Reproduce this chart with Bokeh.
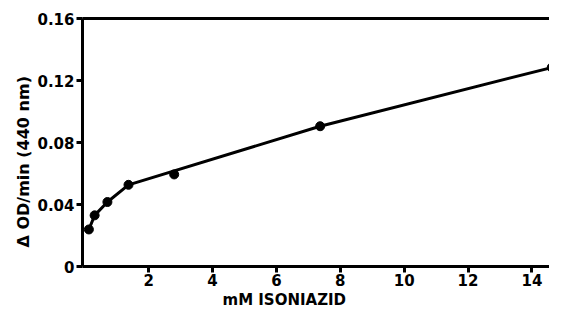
from bokeh.plotting import figure
from bokeh.models import FixedTicker, LinearAxis, Range1d, Title
from bokeh.embed import file_html
from bokeh.resources import INLINE

# measured points (mM isoniazid vs delta OD/min)
conc_mM = [0.13, 0.31, 0.71, 1.37, 2.80, 7.37, 14.62]
rate = [0.0239, 0.0330, 0.0416, 0.0527, 0.0594, 0.0905, 0.1284]

# hand-drawn curve through the points (skips the 2.8 mM point)
curve_conc = [0.13, 0.31, 0.71, 1.37, 7.37, 14.62]
curve_rate = [0.0239, 0.0330, 0.0416, 0.0527, 0.0905, 0.1284]

x_ticks = [2, 4, 6, 8, 10, 12, 14]
y_ticks = [0, 0.04, 0.08, 0.12, 0.16]
y_tick_labels = ["0", "0.04", "0.08", "0.12", "0.16"]
x_label = "mM ISONIAZID"
y_label = "\u0394 OD/min (440 nm)"

FONT = "DejaVu Sans"

p = figure(width=549, height=308, output_backend="svg", toolbar_location=None,
           x_range=Range1d(-0.07, 14.55), y_range=Range1d(0, 0.16),
           min_border_left=82, min_border_right=0, min_border_top=18,
           min_border_bottom=0)
p.grid.visible = False
p.outline_line_color = None
p.background_fill_color = "white"
p.border_fill_color = "white"

p.xaxis.ticker = FixedTicker(ticks=x_ticks)
p.yaxis.ticker = FixedTicker(ticks=y_ticks)
p.yaxis.major_label_overrides = dict(zip(y_ticks, y_tick_labels))

for ax in (p.xaxis[0], p.yaxis[0]):
    ax.axis_line_width = 3
    ax.axis_line_color = "black"
    ax.major_tick_line_width = 3
    ax.major_tick_line_color = "black"
    ax.major_tick_in = 0
    ax.major_tick_out = 6
    ax.minor_tick_line_color = None
    ax.major_label_text_font = FONT
    ax.major_label_text_font_style = "bold"
    ax.major_label_text_font_size = "15px"
    ax.major_label_text_color = "black"
p.xaxis.major_label_standoff = 1
p.yaxis.major_label_standoff = 2

top = LinearAxis(ticker=FixedTicker(ticks=[]), axis_line_width=3,
                 axis_line_color="black", major_tick_line_color=None,
                 minor_tick_line_color=None, major_label_text_font_size="0px")
p.add_layout(top, "above")

p.add_layout(Title(text=x_label, align="left", offset=140, standoff=0,
                   text_font=FONT, text_font_style="bold",
                   text_font_size="15px", text_color="black"), "below")
p.add_layout(Title(text=y_label, align="left", offset=19, standoff=4,
                   text_font=FONT, text_font_style="bold",
                   text_font_size="16px", text_color="black"), "left")

p.line(curve_conc, curve_rate, line_width=3, line_color="black")
p.scatter(conc_mM, rate, size=9, fill_color="black", line_color="black")

open("out.html", "w").write(file_html(p, INLINE))
